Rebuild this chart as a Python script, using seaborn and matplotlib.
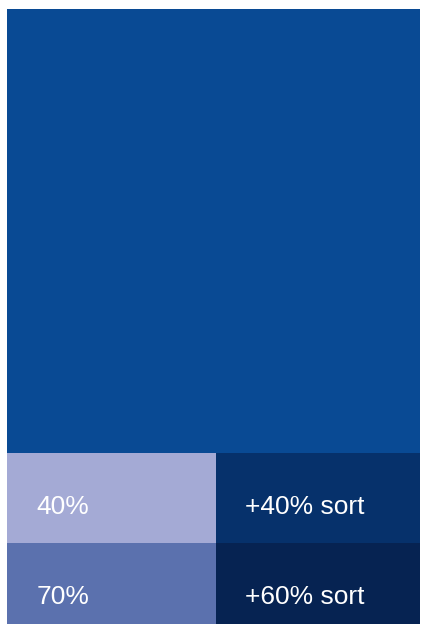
import numpy as np
import matplotlib
matplotlib.use("Agg")
import matplotlib.pyplot as plt
import seaborn as sns

# Data: two columns, stacked from bottom to top
columns = ["left", "right"]
row_names = ["bas", "milieu", "haut"]
row_values = [90, 90, 444]
labels = [["70%", "+60% sort"], ["40%", "+40% sort"], ["", ""]]
colors = [["#5b71ae", "#062352"], ["#a4aad5", "#06316b"], ["#094a94", "#094a94"]]

sns.set_theme(style="white")
plt.rcParams["font.family"] = ["Liberation Sans", "DejaVu Sans"]

fig = plt.figure(figsize=(4.22, 6.24), dpi=100)
ax = fig.add_axes([7 / 422, 0, 413 / 422, 615 / 624])

x = np.arange(len(columns))
bottoms = np.concatenate([[0], np.cumsum(row_values)[:-1]])
for r, (h, b) in enumerate(zip(row_values, bottoms)):
    ax.bar(x, h, bottom=b, width=1, align="edge", color=colors[r], linewidth=0)
    for c in x:
        if labels[r][c]:
            ax.text(c + 0.14, b + h * 0.4, labels[r][c], color="white",
                    fontsize=19, va="center", ha="left")

# right column is a bit narrower than the left one
ax.set_xlim(0, 1.976)
ax.set_ylim(9, sum(row_values))
ax.axis("off")

fig.savefig("out.png", dpi=100)
